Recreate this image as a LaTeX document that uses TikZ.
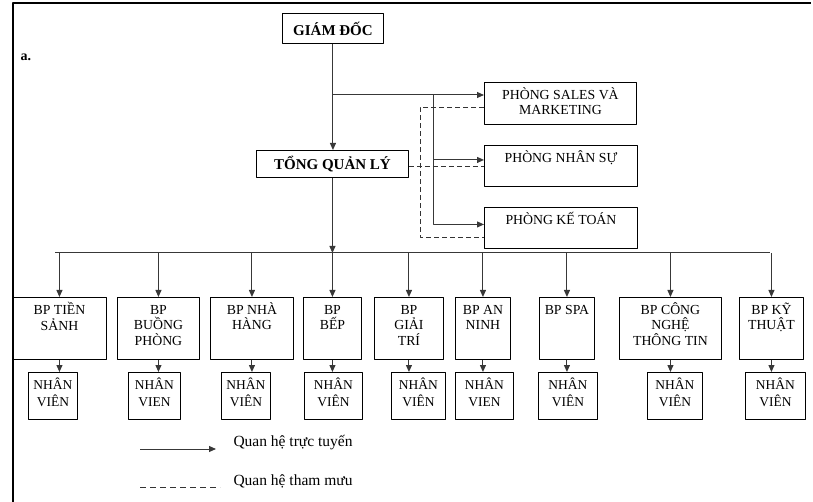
\documentclass[tikz,border=0pt]{standalone}
\usepackage{fontspec}
\setmainfont{Liberation Serif}
\usetikzlibrary{arrows.meta}
\newcommand{\cellbox}[3]{\parbox[c][#2pt][t]{#1pt}{\centering\vspace{5pt}\rule{0pt}{12pt}#3}}

\begin{document}
\begin{tikzpicture}[x=1pt,y=-1pt,line join=round,>={Triangle[length=7pt,width=6pt]},
    unit/.style={draw=black,line width=0.9pt,inner sep=0pt,anchor=north west,font=\fontsize{13.8}{15.5}\selectfont},
    staff/.style={unit,font=\fontsize{13.5}{17}\selectfont},
    head/.style={draw=black,line width=0.9pt,inner sep=0pt,anchor=north west,font=\bfseries\fontsize{15}{16}\selectfont},
    line/.style={draw=black!78,line width=1pt},
    advise/.style={draw=black!80,line width=0.9pt,dash pattern=on 5pt off 3pt}]
    \useasboundingbox (0,0) rectangle (813,502);
    \draw[line width=1.3pt] (13,502) -- (13,3) -- (811,3);
    \node[anchor=west,font=\bfseries\fontsize{14}{16}\selectfont] (mark) at (17,57) {a.};

    \node[head,minimum width=101pt,minimum height=30pt] (gd) at (282,13) {GIÁM ĐỐC};
    \node[head,minimum width=152pt,minimum height=27pt] (tql) at (256,150) {TỔNG QUẢN LÝ};
    \node[unit] (sales) at (484,82) {\cellbox{152}{42}{PHÒNG SALES VÀ\\MARKETING}};
    \node[unit] (nhansu) at (484,145) {\cellbox{153}{41}{PHÒNG NHÂN SỰ}};
    \node[unit] (ketoan) at (484,207) {\cellbox{153}{41}{PHÒNG KẾ TOÁN}};

    \node[unit] (tiensanh) at (12,297) {\cellbox{94}{62}{BP TIỀN\\SẢNH}};
    \node[unit] (buongphong) at (117,297) {\cellbox{82}{62}{BP\\BUỒNG\\PHÒNG}};
    \node[unit] (nhahang) at (210,297) {\cellbox{83}{62}{BP NHÀ\\HÀNG}};
    \node[unit] (bep) at (303,297) {\cellbox{58}{62}{BP\\BẾP}};
    \node[unit] (giaitri) at (374,297) {\cellbox{69}{62}{BP\\GIẢI\\TRÍ}};
    \node[unit] (anninh) at (455,297) {\cellbox{55}{62}{BP AN\\NINH}};
    \node[unit] (spa) at (539,297) {\cellbox{55}{62}{BP SPA}};
    \node[unit] (cntt) at (619,297) {\cellbox{102}{62}{BP CÔNG\\NGHỆ\\THÔNG TIN}};
    \node[unit] (kythuat) at (739,297) {\cellbox{64}{62}{BP KỸ\\THUẬT}};

    \node[staff] (nv1) at (28,372) {\cellbox{49}{47}{NHÂN\\VIÊN}};
    \node[staff] (nv2) at (128,372) {\cellbox{52}{47}{NHÂN\\VIEN}};
    \node[staff] (nv3) at (221,372) {\cellbox{49}{47}{NHÂN\\VIÊN}};
    \node[staff] (nv4) at (304,372) {\cellbox{58}{47}{NHÂN\\VIÊN}};
    \node[staff] (nv5) at (391,372) {\cellbox{54}{47}{NHÂN\\VIÊN}};
    \node[staff] (nv6) at (455,372) {\cellbox{58}{47}{NHÂN\\VIEN}};
    \node[staff] (nv7) at (538,372) {\cellbox{59}{47}{NHÂN\\VIÊN}};
    \node[staff] (nv8) at (647,372) {\cellbox{55}{47}{NHÂN\\VIÊN}};
    \node[staff] (nv9) at (745,372) {\cellbox{60}{47}{NHÂN\\VIÊN}};

    \coordinate (split) at (332,95);
    \coordinate (trunk) at (433,95);
    \coordinate (busl) at (55,253);
    \coordinate (busr) at (770,253);

    \draw[line,->] (gd.south) -- (gd.south |- tql.north);
    \draw[line,->] (split) -- (split -| sales.west);
    \draw[line,->] (trunk) |- ([yshift=6pt]nhansu.west);
    \draw[line,->] (trunk) |- ([yshift=3.5pt]ketoan.west);
    \draw[advise] ([yshift=-3pt]tql.east) -- ([yshift=-3pt]tql.east -| nhansu.west);
    \draw[advise] ([yshift=-4pt]sales.west) -- ++(-64,0) |- ([yshift=-9.5pt]ketoan.west);

    \draw[line,->] (tql.south) -- (tql.south |- busl);
    \draw[line] (busl) -- (busr);
    \foreach \b/\n in {tiensanh/nv1,buongphong/nv2,nhahang/nv3,bep/nv4,giaitri/nv5,anninh/nv6,spa/nv7,cntt/nv8,kythuat/nv9}
    {
      \draw[line,->] (\b.north |- busl) -- (\b.north);
      \draw[line,->] (\b.south) -- (\b.south |- \n.north);
    }

    \coordinate (keya) at (140,449);
    \coordinate (keyb) at (140,487);
    \node[anchor=west,font=\fontsize{15.5}{17}\selectfont] (keytext1) at (230,443) {Quan hệ trực tuyến};
    \node[anchor=west,font=\fontsize{15.5}{17}\selectfont] (keytext2) at (230,481) {Quan hệ tham mưu};
    \draw[line,->] (keya) -- (216,449);
    \draw[advise,dash pattern=on 6pt off 4pt] (keyb) -- (220,487);
\end{tikzpicture}
\end{document}
